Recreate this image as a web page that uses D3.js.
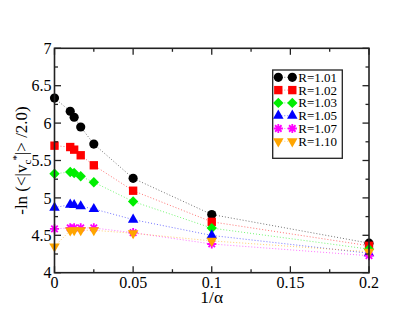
<!DOCTYPE html>
<html><head><meta charset="utf-8">
<script src="https://cdn.jsdelivr.net/npm/d3@7"></script>
<style>body{margin:0;background:#fff}svg{display:block}</style>
</head><body>
<svg id="c" width="415" height="321"></svg>
<script>
const xVals = [0, 0.01, 0.0125, 0.016667, 0.025, 0.05, 0.1, 0.2];
const r101 = [6.335, 6.158, 6.078, 5.948, 5.720, 5.262, 4.778, 4.395];
const r102 = [5.698, 5.680, 5.645, 5.570, 5.436, 5.096, 4.680, 4.360];
const r103 = [5.323, 5.346, 5.333, 5.289, 5.209, 4.952, 4.596, 4.315];
const r105 = [4.870, 4.910, 4.905, 4.888, 4.852, 4.710, 4.498, 4.260];
const r107 = [4.587, 4.598, 4.600, 4.600, 4.598, 4.535, 4.384, 4.227];
const r110 = [4.350, 4.565, 4.567, 4.567, 4.567, 4.527, 4.425, 4.280];
const seriesNames = ["R=1.01","R=1.02","R=1.03","R=1.05","R=1.07","R=1.10"];
const seriesVals = [r101, r102, r103, r105, r107, r110];
const xTicks = [0, 0.05, 0.1, 0.15, 0.2];
const xTickLabels = ["0","0.05","0.1","0.15","0.2"];
const yTicks = [4, 4.5, 5, 5.5, 6, 6.5, 7];
const yTickLabels = ["4","4.5","5","5.5","6","6.5","7"];

const colors = ["#000000","#ff0000","#00ee00","#0000ff","#ff00ff","#ffa500"];
const shapes = ["circle","square","diamond","triUp","star","triDown"];

const svg = d3.select("#c");
const L = 54.5, R = 369, T = 48.3, B = 272.7;
const x = d3.scaleLinear().domain([0, 0.2]).range([L, R]);
const y = d3.scaleLinear().domain([4, 7]).range([B, T]);
const font = "'Liberation Serif','Times New Roman',serif";

function markerPath(shape){
  if (shape === "circle") return d3.symbol(d3.symbolCircle, 66)();
  if (shape === "square") return d3.symbol(d3.symbolSquare, 70)();
  if (shape === "diamond") return "M0,-5.2L5.2,0L0,5.2L-5.2,0Z";
  if (shape === "triUp") return d3.symbol(d3.symbolTriangle, 48)();
  if (shape === "triDown") return d3.symbol(d3.symbolTriangle, 48)();
  if (shape === "star") {
    let p = "";
    const r = 4.6;
    for (let k = 0; k < 4; k++) {
      const a = k * Math.PI / 4;
      p += `M${(-r*Math.cos(a)).toFixed(2)},${(-r*Math.sin(a)).toFixed(2)}L${(r*Math.cos(a)).toFixed(2)},${(r*Math.sin(a)).toFixed(2)}`;
    }
    return p;
  }
}
function drawMarker(g, shape, color, cx, cy){
  const p = g.append("path").attr("d", markerPath(shape));
  let tr = `translate(${cx},${cy})`;
  if (shape === "triDown") tr += " rotate(180)";
  p.attr("transform", tr);
  if (shape === "star") p.attr("fill","none").attr("stroke", color).attr("stroke-width", 1.8);
  else p.attr("fill", color).attr("stroke","none");
}

// lines
const line = d3.line().x((d,i)=>x(xVals[i])).y(d=>y(d));
seriesVals.forEach((vals, s) => {
  svg.append("path").datum(vals).attr("d", line)
    .attr("fill","none").attr("stroke", colors[s]).attr("stroke-width", 1)
    .attr("stroke-dasharray","1,2").attr("opacity", 0.55);
});
// markers
seriesVals.forEach((vals, s) => {
  const g = svg.append("g");
  vals.forEach((v, i) => drawMarker(g, shapes[s], colors[s], x(xVals[i]), y(v)));
});

// frame
svg.append("rect").attr("x", L).attr("y", T).attr("width", R-L).attr("height", B-T)
  .attr("fill","none").attr("stroke","#222").attr("stroke-width",1.6);

// ticks
const tg = svg.append("g").attr("stroke","#222").attr("stroke-width",1.3);
const xMinor = d3.range(0, 0.2001, 0.025);
xMinor.forEach(v => {
  const major = xTicks.some(t => Math.abs(t-v) < 1e-9);
  const len = major ? 6.5 : 3.5;
  tg.append("line").attr("x1", x(v)).attr("x2", x(v)).attr("y1", B).attr("y2", B-len);
  tg.append("line").attr("x1", x(v)).attr("x2", x(v)).attr("y1", T).attr("y2", T+len);
});
const yMinor = d3.range(4, 7.001, 0.25);
yMinor.forEach(v => {
  const major = yTicks.some(t => Math.abs(t-v) < 1e-9);
  const len = major ? 6.5 : 3.5;
  tg.append("line").attr("y1", y(v)).attr("y2", y(v)).attr("x1", L).attr("x2", L+len);
  tg.append("line").attr("y1", y(v)).attr("y2", y(v)).attr("x1", R).attr("x2", R-len);
});

// tick labels
svg.append("g").selectAll("text").data(xTicks).join("text")
  .attr("x", d=>x(d)).attr("y", 287.5).attr("text-anchor","middle")
  .attr("font-family", font).attr("font-size", 16).text((d,i)=>xTickLabels[i]);
svg.append("g").selectAll("text").data(yTicks).join("text")
  .attr("x", 51.5).attr("y", d=>y(d)).attr("dy","0.35em").attr("text-anchor","end")
  .attr("font-family", font).attr("font-size", 16).text((d,i)=>yTickLabels[i]);

// axis labels
svg.append("text").attr("x", (L+R)/2).attr("y", 303).attr("text-anchor","middle")
  .attr("font-family", font).attr("font-size", 17.5).text("1/α");
const yl = svg.append("text").attr("transform", `translate(27,${(T+B)/2}) rotate(-90)`)
  .attr("text-anchor","middle").attr("font-family", font).attr("font-size", 17);
yl.append("tspan").text("-ln (<|v");
yl.append("tspan").attr("font-size", 11).attr("dy", 4).text("c");
yl.append("tspan").attr("font-size", 11).attr("dy", -11).attr("dx", -1).text("*");
yl.append("tspan").attr("dy", 7).text("|> /2.0)");

// legend
const lg = svg.append("g");
lg.append("rect").attr("x", 272.7).attr("y", 70).attr("width", 69.6).attr("height", 88.3)
  .attr("fill","#fff").attr("stroke","#222").attr("stroke-width",1.3);
seriesNames.forEach((name, s) => {
  const yy = 77.3 + s*12.8;
  lg.append("line").attr("x1", 278.3).attr("x2", 292.3).attr("y1", yy).attr("y2", yy)
    .attr("stroke", colors[s]).attr("stroke-width",1).attr("stroke-dasharray","1,2").attr("opacity",0.55);
  drawMarker(lg, shapes[s], colors[s], 278.3, yy);
  drawMarker(lg, shapes[s], colors[s], 292.3, yy);
  lg.append("text").attr("x", 298.3).attr("y", yy).attr("dy","0.35em")
    .attr("font-family", font).attr("font-size", 13).text(name);
});
</script>
</body></html>
